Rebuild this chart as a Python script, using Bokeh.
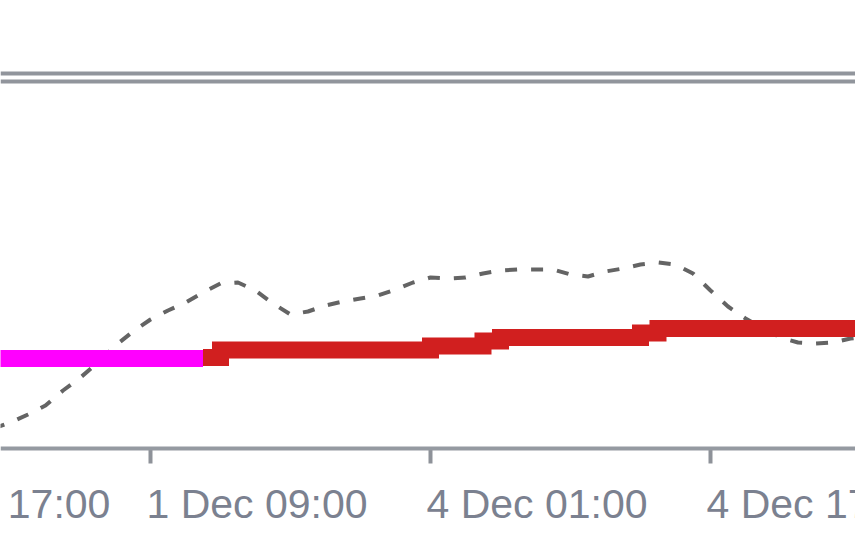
from bokeh.plotting import figure
from bokeh.models import Range1d, Span, ColumnDataSource
from bokeh.core.properties import value
from bokeh.embed import file_html
from bokeh.resources import INLINE

# ---- data (hourly bars; bar 0 = 1 Dec 09:00) ----
tick_bars = [-16, 0, 16, 32]
tick_labels = ["30 Nov 17:00", "1 Dec 09:00", "4 Dec 01:00", "4 Dec 17:00"]

ma_bars = list(range(-9, 42))
ma_values = [1.18360, 1.18372, 1.18388, 1.18406, 1.18436, 1.18462, 1.18492,
             1.18526, 1.18554, 1.18578, 1.18596, 1.18612, 1.18632, 1.18650,
             1.18652, 1.18636, 1.18610, 1.18588, 1.18594, 1.18606, 1.18614,
             1.18620, 1.18626, 1.18638, 1.18652, 1.18662, 1.18660, 1.18662,
             1.18670, 1.18676, 1.18678, 1.18678, 1.18678, 1.18668, 1.18664,
             1.18674, 1.18680, 1.18688, 1.18692, 1.18688, 1.18670, 1.18636,
             1.18604, 1.18580, 1.18560, 1.18542, 1.18532, 1.18530, 1.18532,
             1.18540, 1.18544]

flat_bars = list(range(-9, 4))
flat_values = [1.18500, 1.18500, 1.18500, 1.18500, 1.18500, 1.18500, 1.18500,
               1.18500, 1.18500, 1.18500, 1.18500, 1.18500, 1.18500]

rise_bars = list(range(3, 42))
rise_values = [1.18502,
               1.18517, 1.18517, 1.18517, 1.18517, 1.18517, 1.18517,
               1.18517, 1.18517, 1.18517, 1.18517, 1.18517, 1.18517,
               1.18525, 1.18525, 1.18525,
               1.18535,
               1.18542, 1.18542, 1.18542, 1.18542, 1.18542, 1.18542,
               1.18542, 1.18542,
               1.18551,
               1.18560, 1.18560, 1.18560, 1.18560, 1.18560, 1.18560,
               1.18560, 1.18560, 1.18560, 1.18560, 1.18560, 1.18560,
               1.18560]

# ---- layout ----
W, H = 855, 534
X0, X1 = -8.571, 40.286
Y0, Y1 = 1.18148, 1.19216
PX = (Y1 - Y0) / H          # price per pixel
axis_level = Y0 + 86 * PX
tick_bottom = axis_level - 15 * PX
label_level = Y0 + 31 * PX
top_line_1 = Y1 - 73 * PX
top_line_2 = Y1 - 81 * PX

p = figure(width=W, height=H, output_backend="svg", toolbar_location=None,
           x_range=Range1d(X0, X1), y_range=Range1d(Y0, Y1),
           x_axis_type=None, y_axis_type=None, min_border=0,
           background_fill_color="white", border_fill_color="white")
p.outline_line_color = None
p.grid.visible = False

for loc in (top_line_1, top_line_2):
    p.add_layout(Span(location=loc, dimension="width", line_color="#91959c",
                      line_width=4))
p.add_layout(Span(location=axis_level, dimension="width", line_color="#959aa1",
                  line_width=4))

ticks = ColumnDataSource(dict(x=tick_bars, label=tick_labels))
p.segment(x0="x", x1="x", y0=axis_level, y1=tick_bottom, source=ticks,
          line_color="#8e9299", line_width=4, line_cap="butt")
p.text(x="x", y=label_level, text="label", source=ticks, x_offset=-4,
       text_align="left", text_baseline="alphabetic",
       text_font=value("Liberation Sans"), text_font_size="41px",
       text_color="#7b8190")

p.line(ma_bars, ma_values, line_color="#646464", line_width=4,
       line_dash="12 14")
p.line(flat_bars, flat_values, line_color="#ff00ff", line_width=17,
       line_cap="butt")
p.step(rise_bars, rise_values, mode="after", line_color="#d11f1f",
       line_width=17, line_join="miter", line_cap="butt")

open("out.html", "w").write(file_html(p, INLINE))
